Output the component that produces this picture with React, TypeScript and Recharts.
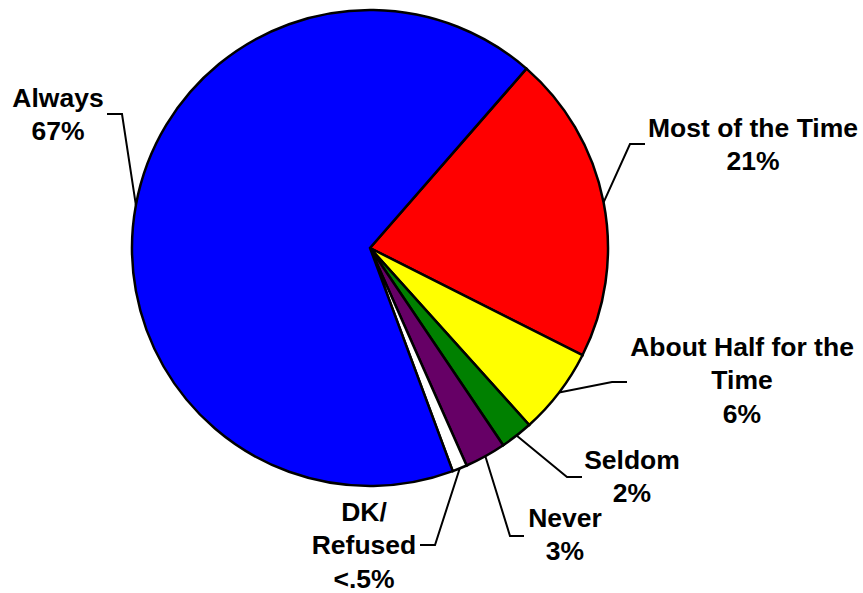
import React from "react";
import { PieChart, Pie, Cell } from "recharts";

const categories = ["Most of the Time", "About Half for the Time", "Seldom", "Never", "DK/Refused", "Always"];
const values = [21, 5.9, 2.2, 2.8, 1.0, 67];
const labelLines = [
  ["Most of the Time", "21%"],
  ["About Half for the", "Time", "6%"],
  ["Seldom", "2%"],
  ["Never", "3%"],
  ["DK/", "Refused", "<.5%"],
  ["Always", "67%"],
];
const colors = ["#FF0000", "#FFFF00", "#008000", "#660066", "#FFFFFF", "#0000FF"];

// label layout: elbow point, horizontal end, text center x, first baseline y
const labelLayout = [
  { ex: 630, ey: 144, hx: 645, tx: 753, ty: 137 },
  { ex: 612, ey: 382, hx: 627, tx: 742, ty: 356 },
  { ex: 567, ey: 477, hx: 582, tx: 632, ty: 469 },
  { ex: 510, ey: 536, hx: 524, tx: 565, ty: 527 },
  { ex: 435, ey: 545, hx: 420, tx: 364, ty: 521 },
  { ex: 122, ey: 114, hx: 107, tx: 58, ty: 107 },
];

const data = categories.map((c, i) => ({ name: c, value: values[i] }));

const RAD = Math.PI / 180;

const renderLabel = (props: any) => {
  const { cx, cy, midAngle, outerRadius, index } = props;
  const sx = cx + outerRadius * Math.cos(-midAngle * RAD);
  const sy = cy + outerRadius * Math.sin(-midAngle * RAD);
  const L = labelLayout[index];
  const lines = labelLines[index];
  return (
    <g key={`lbl-${index}`}>
      <polyline
        points={`${sx},${sy} ${L.ex},${L.ey} ${L.hx},${L.ey}`}
        fill="none"
        stroke="#000"
        strokeWidth={2}
      />
      <text
        x={L.tx}
        y={L.ty}
        textAnchor="middle"
        fontFamily="'Liberation Sans', Arial, sans-serif"
        fontWeight="bold"
        fontSize={26.5}
        fill="#000"
      >
        {lines.map((t, i) => (
          <tspan key={i} x={L.tx} y={L.ty + i * 33.3}>
            {t}
          </tspan>
        ))}
      </text>
    </g>
  );
};

export default function App() {
  return (
    <div style={{ position: "absolute", left: 0, top: 0, width: 863, height: 593, background: "#fff" }}>
      <PieChart width={863} height={593} margin={{ top: 0, right: 0, bottom: 0, left: 0 }}>
        <Pie
          data={data}
          dataKey="value"
          nameKey="name"
          cx={370}
          cy={248}
          outerRadius={238}
          startAngle={48.9}
          endAngle={-311.1}
          stroke="#000"
          strokeWidth={2.5}
          label={renderLabel}
          labelLine={false}
          isAnimationActive={false}
        >
          {data.map((d, i) => (
            <Cell key={d.name} fill={colors[i]} />
          ))}
        </Pie>
      </PieChart>
    </div>
  );
}
